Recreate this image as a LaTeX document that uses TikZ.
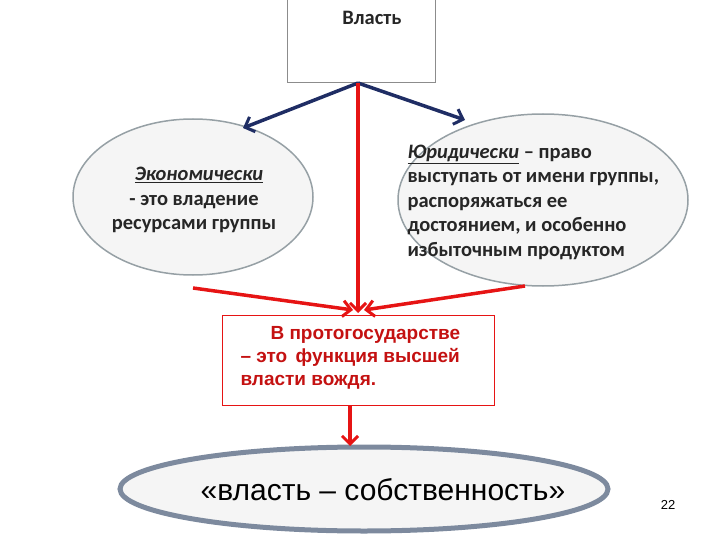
\documentclass[tikz,border=0pt]{standalone}
\usepackage{fontspec}
\setmainfont{Carlito}
\newfontfamily\arialf{Liberation Sans}
\usetikzlibrary{arrows.meta}
\definecolor{dblue}{RGB}{31,45,100}
\definecolor{rred}{RGB}{230,20,20}
\definecolor{egray}{RGB}{150,160,165}
\definecolor{bgray}{RGB}{125,138,158}
\tikzset{
 redar/.style={draw=rred,line width=3.5pt,-{Straight Barb[length=8pt,width=16pt,line width=3pt]}},
 bluar/.style={draw=dblue,line width=3.5pt,-{Straight Barb[length=8pt,width=16pt,line width=3pt]}},
 ell/.style={draw=egray,line width=1.5pt,fill=black!4},
 txt/.style={font=\bfseries\fontsize{20.5}{24.5}\selectfont, text=black!85, align=left}
}
\begin{document}
\begin{tikzpicture}[x=1pt,y=-1pt]
\useasboundingbox (0,0) rectangle (720,540);
\node[draw=black!45,line width=1pt,minimum width=148pt,minimum height=83pt] (top) at (361,41.5) {};
\node[txt,anchor=center] (vl) at (372,18) {Власть};
\draw[ell] (193,197) ellipse [x radius=120,y radius=78];
\node[txt,align=center] (lt) at (194,200) {\hspace*{10pt}\underline{\itshape Экономически}\\- это владение\\ресурсами группы};
\draw[ell] (543,200) ellipse [x radius=145,y radius=86];
\node[txt,anchor=west] (rt) at (404,202) {\underline{\itshape Юридически} – право\\выступать от имени группы,\\распоряжаться ее\\достоянием, и особенно\\избыточным продуктом};
\node[draw=rred,line width=1pt,minimum width=272pt,minimum height=90pt] (mb) at (358,360) {};
\node[font=\arialf\bfseries\fontsize{19}{23}\selectfont,text=rred!85!black,align=left,anchor=west] (mt) at (237,358) {\hspace*{30pt}В протогосударстве\\– это\, функция высшей\\власти вождя.};
\draw[draw=bgray,line width=5pt,fill=black!4] (364,489) ellipse [x radius=244,y radius=42];
\node[font=\arialf\fontsize{30}{34}\selectfont] (bt) at (383,490) {«власть – собственность»};
\node[font=\arialf\fontsize{13}{15}\selectfont] (pg) at (668,505) {22};
\coordinate (a0) at (358,83);
\coordinate (bl) at (243,128);
\coordinate (br) at (465,120);
\coordinate (l1) at (193,288);
\coordinate (r1) at (525,286);
\coordinate (mtop) at (358,313);
\coordinate (mb1) at (350,405);
\coordinate (be) at (350,446);
\draw[bluar] (a0) -- (bl);
\draw[bluar] (a0) -- (br);
\draw[redar] (a0) -- (mtop);
\draw[redar] (l1) -- (353,310);
\draw[redar] (r1) -- (364,310);
\draw[redar] (mb1) -- (be);
\end{tikzpicture}
\end{document}
